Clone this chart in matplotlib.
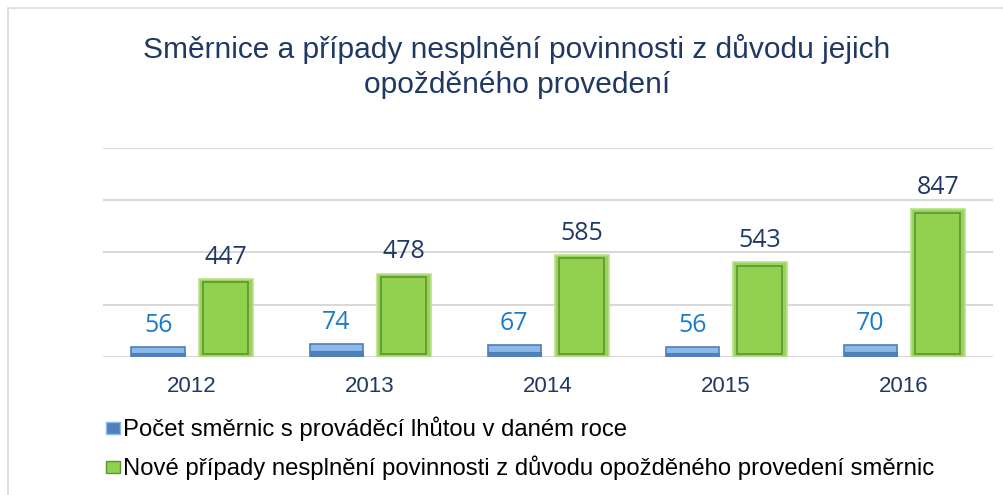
import numpy as np
import matplotlib.pyplot as plt
from matplotlib.patches import Rectangle

plt.rcParams['font.family'] = ['Liberation Sans', 'DejaVu Sans']

# data
years = ['2012', '2013', '2014', '2015', '2016']
pocet = [56, 74, 67, 56, 70]
nove = [447, 478, 585, 543, 847]
lab_pocet = 'Počet směrnic s prováděcí lhůtou v daném roce'
lab_nove = 'Nové případy nesplnění povinnosti z důvodu opožděného provedení směrnic'
title = 'Směrnice a případy nesplnění povinnosti z důvodu jejich\nopožděného provedení'

navy = '#1F3864'
fig = plt.figure(figsize=(10.04, 4.95), dpi=100)
ax = fig.add_axes([0.1026, 0.2788, 0.8865, 0.4222])

x = np.arange(len(years))
w = 0.30
off = 0.19

# blue bars (bevel look: outer + darker lower part)
ax.bar(x - off, pocet, w, color='#8DB8E8', edgecolor='#4F7FB8', lw=1.2, zorder=3)
ax.bar(x - off, np.array(pocet) * 0.45, w, color='#4F81BD', edgecolor='#4F7FB8', lw=0.8, zorder=3)
# green bars (outer light rim + inner outlined face)
ax.bar(x + off, nove, w, color='#9BD35A', edgecolor='#B9E28E', lw=1.2, zorder=3)
ax.bar(x + off, np.array(nove) - 36, w * 0.84, bottom=18, color='#92D050',
       edgecolor='#5E9430', lw=1.2, zorder=4)

for xi, v in zip(x, pocet):
    ax.text(xi - off, v + 125, str(v), ha='center', va='center', fontsize=18,
            color='#1C7ACB', family='Open Sans')
for xi, v in zip(x, nove):
    ax.text(xi + off, v + 125, str(v), ha='center', va='center', fontsize=18,
            color=navy, family='Open Sans')

ax.set_xlim(-0.5, len(years) - 0.5)
ax.set_ylim(0, 1200)
ax.set_yticks([0, 300, 600, 900, 1200])
ax.yaxis.grid(True, color='#D9D9D9', lw=1.5, zorder=0)
ax.set_yticklabels([])
ax.set_xticks(x)
ax.set_xticklabels(years, fontsize=16, color=navy)
ax.tick_params(length=0, pad=14)
for s in ax.spines.values():
    s.set_visible(False)
ax.set_facecolor('none')

fig.text(0.515, 0.866, title, ha='center', va='center', fontsize=21.5, color=navy,
         linespacing=1.33)

# legend
h1 = Rectangle((0, 0), 1, 1, facecolor='#4F81BD', edgecolor='#8DB8E8')
h2 = Rectangle((0, 0), 1, 1, facecolor='#92D050', edgecolor='#5E9430')
fig.legend([h1, h2], [lab_pocet, lab_nove], loc='upper left', bbox_to_anchor=(0.106, 0.158),
           frameon=False, fontsize=17.2, handlelength=0.55, handleheight=0.4,
           handletextpad=0.15, labelspacing=0.6, borderaxespad=0, borderpad=0)

# outer frame
fig.patches.append(Rectangle((8 / 1004, -0.1), 1.2, 1.1 - 8 / 495, transform=fig.transFigure,
                             fill=False, edgecolor='#D9D9D9', lw=1.2))

fig.savefig('out.png', dpi=100)
